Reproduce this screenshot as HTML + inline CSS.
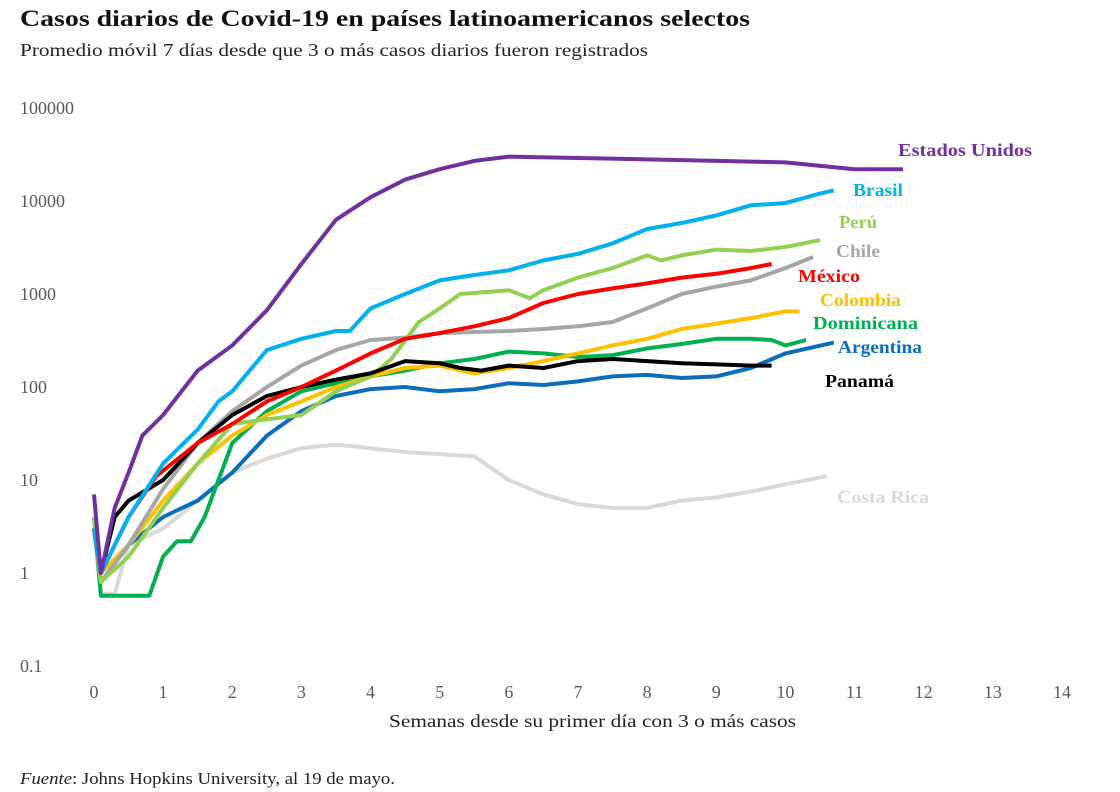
<!DOCTYPE html>
<html><head><meta charset="utf-8">
<style>
body{margin:0;background:#fff;}
svg{display:block;font-family:"Liberation Serif",serif;}
</style></head>
<body>
<svg id="chart" width="1120" height="792">
<text x="20" y="26" font-size="23" font-weight="bold" fill="#111" textLength="730" lengthAdjust="spacingAndGlyphs">Casos diarios de Covid-19 en países latinoamericanos selectos</text>
<text x="20" y="56" font-size="18" fill="#222" textLength="628" lengthAdjust="spacingAndGlyphs">Promedio móvil 7 días desde que 3 o más casos diarios fueron registrados</text>
<g id="axes"></g>
<g id="series"></g>
<g id="labels"></g>
<text x="389" y="727" font-size="18" fill="#222" textLength="407" lengthAdjust="spacingAndGlyphs">Semanas desde su primer día con 3 o más casos</text>
<text x="20" y="784" font-size="17" fill="#222" textLength="375" lengthAdjust="spacingAndGlyphs"><tspan font-style="italic">Fuente</tspan>: Johns Hopkins University, al 19 de mayo.</text>
</svg>
<script>
const yTicks=[0.1,1,10,100,1000,10000,100000];
const yTickLabels=["0.1","1","10","100","1000","10000","100000"];
const xTicks=[0,1,2,3,4,5,6,7,8,9,10,11,12,13,14];
const seriesNames=["Costa Rica","Argentina","Dominicana","Colombia","Chile","Perú","Panamá","México","Brasil","Estados Unidos"];
const seriesColors=["#d9d9d9","#0a6ebd","#00b050","#ffc000","#a6a6a6","#92d050","#000000","#ff0000","#00b0f0","#7030a0"];
const crX=[0,0.1,0.3,0.5,1,1.5,2,2.5,3,3.5,4,4.5,5,5.5,6,6.5,7,7.5,8,8.5,9,9.5,10,10.6];
const crY=[3,0.6,0.6,2,3,6,12,17,22,24,22,20,19,18,10,7,5.5,5,5,6,6.5,7.5,9,11];
const arX=[0,0.1,0.5,1,1.5,2,2.5,3,3.5,4,4.5,5,5.5,6,6.5,7,7.5,8,8.5,9,9.5,10,10.7];
const arY=[3,0.8,2,4,6,12,30,55,80,95,100,90,95,110,105,115,130,135,125,130,160,230,300];
const drX=[0,0.1,0.8,1.0,1.2,1.4,1.6,2,2.5,3,3.5,4,4.5,5,5.5,6,6.5,7,7.5,8,8.5,9,9.5,9.8,10,10.3];
const drY=[4,0.57,0.57,1.5,2.2,2.2,4,25,55,90,110,130,150,180,200,240,230,210,220,260,290,330,330,320,280,320];
const coX=[0,0.1,0.5,1,1.5,2,2.5,3,3.5,4,4.5,5,5.5,6,6.5,7,7.5,8,8.5,9,9.5,10,10.2];
const coY=[3,1,2,6,15,30,50,70,100,130,160,170,140,160,190,230,280,330,420,480,550,650,650];
const clX=[0,0.1,0.5,1,1.5,2,2.5,3,3.5,4,4.5,5,5.5,6,6.5,7,7.5,8,8.5,9,9.5,10,10.4];
const clY=[3,0.8,2,8,25,55,100,170,250,320,340,380,390,400,420,450,500,700,1000,1200,1400,1900,2500];
const peX=[0,0.1,0.5,1,1.5,2,2.5,3,3.5,4,4.3,4.7,5,5.3,6,6.3,6.5,7,7.5,8,8.2,8.5,9,9.5,10,10.5];
const peY=[4,0.8,1.5,5,15,40,45,50,90,130,200,500,700,1000,1100,900,1100,1500,1900,2600,2300,2600,3000,2900,3200,3800];
const paX=[0,0.1,0.3,0.5,1,1.5,2,2.5,3,3.5,4,4.5,5,5.3,5.6,6,6.5,7,7.5,8,8.5,9,9.5,9.8];
const paY=[3,1,4,6,10,25,50,80,100,120,140,190,180,160,150,170,160,190,200,190,180,175,170,170];
const mxX=[0,0.1,0.5,0.9,1.5,2,2.5,3,3.5,4,4.5,5,5.5,6,6.5,7,7.5,8,8.5,9,9.5,9.8];
const mxY=[3,1,4,11,25,40,70,100,150,230,330,380,450,550,800,1000,1150,1300,1500,1650,1900,2100];
const brX=[0,0.1,0.5,1,1.5,1.8,2,2.5,3,3.5,3.7,4,4.5,5,5.5,6,6.5,7,7.5,8,8.5,9,9.5,10,10.5,10.7];
const brY=[3,1,4,15,35,70,90,250,330,400,400,700,1000,1400,1600,1800,2300,2700,3500,5000,5800,7000,9000,9500,12000,13000];
const usX=[0,0.1,0.3,0.5,0.7,1,1.5,2,2.5,3,3.5,4,4.5,5,5.5,6,7,8,9,10,11,11.7];
const usY=[7,1,5,12,30,50,150,280,670,2100,6300,11000,17000,22000,27000,30000,29000,28000,27000,26000,22000,22000];
const allX=[crX,arX,drX,coX,clX,peX,paX,mxX,brX,usX];
const allY=[crY,arY,drY,coY,clY,peY,paY,mxY,brY,usY];
const labelPos=[[837,503],[838,353],[813,329],[820,306],[836,257],[839,228],[825,387],[798,282],[853,196],[898,156]];
const labelWidths=[92,84,105,81,44,38,69,62,50,134];

const NS="http://www.w3.org/2000/svg";
const xS=v=>94+v*69.14;
const yS=v=>573-Math.log10(v)*93;
const axes=document.getElementById('axes');
yTicks.forEach((t,i)=>{
  const tx=document.createElementNS(NS,'text');
  tx.setAttribute('x',20);tx.setAttribute('y',yS(t)+6);
  tx.setAttribute('font-size','18');tx.setAttribute('fill','#595959');
  tx.textContent=yTickLabels[i];
  
  
  axes.appendChild(tx);
});
xTicks.forEach(t=>{
  const tx=document.createElementNS(NS,'text');
  tx.setAttribute('x',xS(t));tx.setAttribute('y',698);
  tx.setAttribute('font-size','18');tx.setAttribute('fill','#595959');
  tx.setAttribute('text-anchor','middle');
  tx.textContent=t;
  
  
  axes.appendChild(tx);
});
const sg=document.getElementById('series');
const lg=document.getElementById('labels');
seriesNames.forEach((n,i)=>{
  const p=document.createElementNS(NS,'path');
  const xs=allX[i],ys=allY[i];
  p.setAttribute('d',xs.map((x,j)=>(j?'L':'M')+xS(x).toFixed(1)+','+yS(ys[j]).toFixed(1)).join(''));
  p.setAttribute('fill','none');p.setAttribute('stroke',seriesColors[i]);
  p.setAttribute('stroke-width','4');p.setAttribute('stroke-linejoin','round');
  
  
  sg.appendChild(p);
  const t=document.createElementNS(NS,'text');
  t.setAttribute('x',labelPos[i][0]);t.setAttribute('y',labelPos[i][1]);
  t.setAttribute('font-size','18');t.setAttribute('font-weight','bold');
  t.setAttribute('fill',seriesColors[i]);
  t.setAttribute('textLength',labelWidths[i]);
  t.setAttribute('lengthAdjust','spacingAndGlyphs');
  t.textContent=n;
  
  
  lg.appendChild(t);
});
</script>
</body></html>
